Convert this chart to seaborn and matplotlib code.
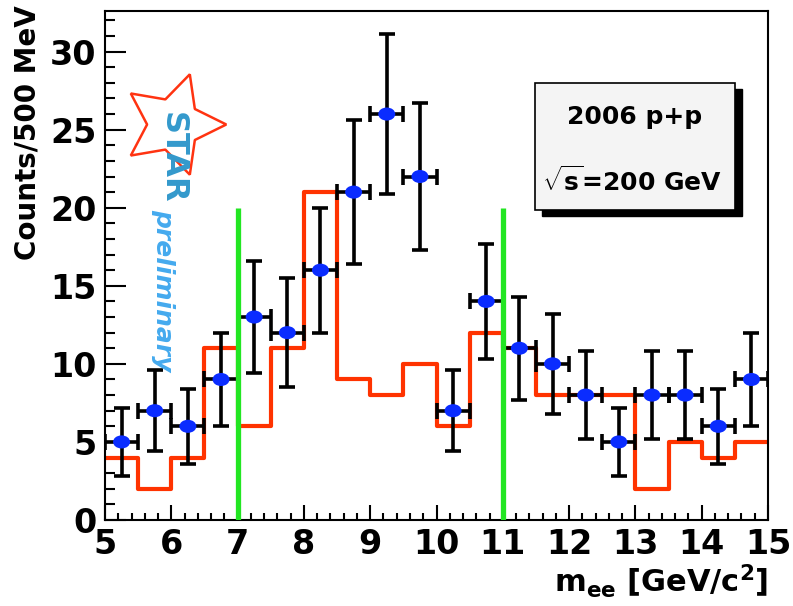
import matplotlib
matplotlib.use("Agg")
import matplotlib.pyplot as plt
import pandas as pd
import seaborn as sns
from matplotlib.path import Path
from matplotlib.patches import Rectangle
from matplotlib.transforms import Affine2D

# data points (0.5 GeV bins)
mass = [5.25, 5.75, 6.25, 6.75, 7.25, 7.75, 8.25, 8.75, 9.25, 9.75,
        10.25, 10.75, 11.25, 11.75, 12.25, 12.75, 13.25, 13.75, 14.25, 14.75]
counts = [5, 7, 6, 9, 13, 12, 16, 21, 26, 22, 7, 14, 11, 10, 8, 5, 8, 8, 6, 9]
count_err = [2.2, 2.6, 2.4, 3.0, 3.6, 3.5, 4.0, 4.6, 5.1, 4.7,
             2.6, 3.7, 3.3, 3.2, 2.8, 2.2, 2.8, 2.8, 2.4, 3.0]
bin_halfwidth = 0.25

# red histogram (like-sign background)
hist_edges = [5.0, 5.5, 6.0, 6.5, 7.0, 7.5, 8.0, 8.5, 9.0, 9.5, 10.0,
              10.5, 11.0, 11.5, 12.0, 12.5, 13.0, 13.5, 14.0, 14.5, 15.0]
hist_counts = [4, 2, 4, 11, 6, 11, 21, 9, 8, 10, 6, 12, 11, 8, 8, 8, 2, 5, 4, 5]

# mass window
window_x = [7, 11]
window_top = 20

x_ticks = [5, 6, 7, 8, 9, 10, 11, 12, 13, 14, 15]
y_ticks = [0, 5, 10, 15, 20, 25, 30]

sns.set_theme(style="white")
plt.rcParams["font.family"] = ["DejaVu Sans"]
plt.rcParams["text.color"] = "black"
plt.rcParams["mathtext.fontset"] = "custom"
plt.rcParams["mathtext.rm"] = "DejaVu Sans:bold"
plt.rcParams["mathtext.default"] = "rm"

fig = plt.figure(figsize=(7.93, 6.06), dpi=100)
fig.patch.set_facecolor("white")
ax = fig.add_axes([105 / 793, 86 / 606, 663 / 793, 509 / 606])
ax.set_facecolor("white")

# background histogram
hist = pd.DataFrame({"m": hist_edges, "n": hist_counts + [hist_counts[-1]]})
sns.lineplot(data=hist, x="m", y="n", ax=ax, drawstyle="steps-post",
             color="#ff3300", linewidth=3.0, estimator=None, zorder=2)

# data with errors
ax.errorbar(mass, counts, yerr=count_err, xerr=bin_halfwidth, fmt="none",
            ecolor="black", elinewidth=2.6, capsize=6, capthick=2.6, zorder=3)
ellipse = Path.unit_circle().transformed(Affine2D().scale(1.3, 1.0))
pts = pd.DataFrame({"m": mass, "n": counts})
sns.scatterplot(data=pts, x="m", y="n", ax=ax, marker=ellipse, s=150,
                color="#0a2cff", edgecolor="none", zorder=4)

# signal window
ax.vlines(window_x, 0, window_top, colors="#22e622", linewidth=3.8, zorder=5)

ax.set_xlim(5, 15)
ax.set_ylim(0, 32.6)
ax.set_xticks(x_ticks)
ax.set_xticks([5 + 0.2 * i for i in range(51)], minor=True)
ax.set_yticks(y_ticks)
ax.set_yticks(list(range(0, 33)), minor=True)
ax.tick_params(axis="both", which="both", direction="in", width=1.5,
               colors="black", labelcolor="black",
               bottom=True, left=True, top=False, right=False)
ax.tick_params(axis="x", which="major", length=11, pad=6, labelsize=24)
ax.tick_params(axis="x", which="minor", length=5)
ax.tick_params(axis="y", which="major", length=15, pad=6, labelsize=24)
ax.tick_params(axis="y", which="minor", length=7)
for lab in ax.get_xticklabels() + ax.get_yticklabels():
    lab.set_fontweight("bold")
for s in ax.spines.values():
    s.set_visible(True)
    s.set_color("black")
    s.set_linewidth(1.5)
ax.set_xlabel("")
ax.set_ylabel("")
ax.grid(False)

ax.text(1.0, -0.143, r"m$_{ee}$ [GeV/c$^{2}$]", transform=ax.transAxes,
        ha="right", va="baseline", fontsize=22, fontweight="bold", color="black")
ax.text(-0.1176, 1.0118, "Counts/500 MeV", transform=ax.transAxes,
        rotation=90, ha="center", va="top", fontsize=20, fontweight="bold",
        color="black", clip_on=False)

# info box with shadow
x0, x1 = (535 - 105) / 663, (735 - 105) / 663
y0, y1 = (520 - 210) / 509, (520 - 83) / 509
dx, dy = 7 / 663, -6 / 509
ax.add_patch(Rectangle((x0 + dx, y0 + dy), x1 - x0, y1 - y0, transform=ax.transAxes,
                       facecolor="black", edgecolor="black", zorder=6))
ax.add_patch(Rectangle((x0, y0), x1 - x0, y1 - y0, transform=ax.transAxes,
                       facecolor="#f4f4f4", edgecolor="black", linewidth=1.2, zorder=7))
ax.text((x0 + x1) / 2, 0.7917, "2006 p+p", transform=ax.transAxes, ha="center",
        va="center", fontsize=18, fontweight="bold", color="black", zorder=8)
ax.text((x0 + x1) / 2 - 0.004, 0.666, r"$\sqrt{s}$=200 GeV", transform=ax.transAxes,
        ha="center", va="center", fontsize=18, fontweight="bold", color="black",
        zorder=8)

# STAR preliminary logo
ax.plot([0.1026], [0.778], transform=ax.transAxes, marker=(5, 1, -90),
        markersize=76, markerfacecolor="none", markeredgecolor="#ff3311",
        markeredgewidth=1.8, linestyle="none", zorder=6)
ax.text(0.1011, 0.7112, "STAR", transform=ax.transAxes, rotation=270,
        ha="center", va="center", fontsize=23, fontweight="bold",
        color="#3399cc", zorder=7)
ax.text(0.0875, 0.4519, "preliminary", transform=ax.transAxes, rotation=270,
        ha="center", va="center", fontsize=18, fontstyle="italic",
        fontweight="bold", color="#44aaee", zorder=7)

fig.savefig("out.png", dpi=100)
